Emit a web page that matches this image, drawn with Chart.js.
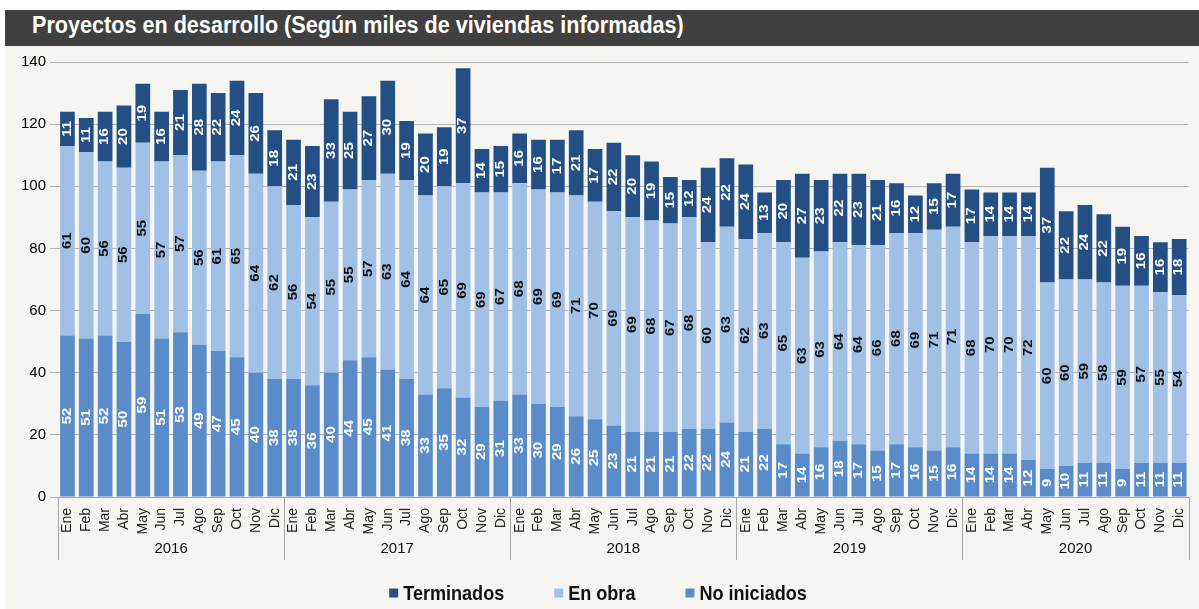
<!DOCTYPE html>
<html>
<head>
<meta charset="utf-8">
<script src="https://cdn.jsdelivr.net/npm/chart.js@4"></script>
<style>
body { margin: 0; background: #fff; }
#wrap { position: absolute; left: 5px; top: 10px; width: 1194px; height: 599px; background: #f6f5f1; }
#title { height: 36px; background: #404040; color: #fff; line-height: 36px; padding-left: 27px; overflow: hidden; }
#title span { display: inline-block; font: bold 24px "Liberation Sans Narrow", "Arial Narrow", "Liberation Sans", sans-serif; transform: scaleX(0.9); transform-origin: left center; white-space: nowrap; }
canvas { display: block; }
</style>
</head>
<body>
<div id="wrap">
  <div id="title"><span>Proyectos en desarrollo (Según miles de viviendas informadas)</span></div>
  <canvas id="myChart" width="1194" height="563"></canvas>
</div>
<script>
let years = ["2016","2017","2018","2019","2020"]
let months = ["Ene","Feb","Mar","Abr","May","Jun","Jul","Ago","Sep","Oct","Nov","Dic"]
let noIniciados = [52,51,52,50,59,51,53,49,47,45,40,38,
                   38,36,40,44,45,41,38,33,35,32,29,31,
                   33,30,29,26,25,23,21,21,21,22,22,24,
                   21,22,17,14,16,18,17,15,17,16,15,16,
                   14,14,14,12,9,10,11,11,9,11,11,11]
let enObra = [61,60,56,56,55,57,57,56,61,65,64,62,
              56,54,55,55,57,63,64,64,65,69,69,67,
              68,69,69,71,70,69,69,68,67,68,60,63,
              62,63,65,63,63,64,64,66,68,69,71,71,
              68,70,70,72,60,60,59,58,59,57,55,54]
let terminados = [11,11,16,20,19,16,21,28,22,24,26,18,
                  21,23,33,25,27,30,19,20,19,37,14,15,
                  16,16,17,21,17,22,20,19,15,12,24,22,
                  24,13,20,27,23,22,23,21,16,12,15,17,
                  17,14,14,14,37,22,24,22,19,16,16,18]
let yTicks = [0,20,40,60,80,100,120,140]

let labels = years.flatMap(y => months)

// numbers inside each segment, rotated
const valueLabels = {
  id: 'valueLabels',
  afterDatasetsDraw(chart) {
    const ctx = chart.ctx
    chart.data.datasets.forEach((ds, i) => {
      chart.getDatasetMeta(i).data.forEach((bar, j) => {
        ctx.save()
        ctx.translate(bar.x, (bar.y + bar.base) / 2)
        ctx.rotate(-Math.PI / 2)
        ctx.scale(1.25, 1)
        ctx.font = 'bold 12px "Liberation Sans", Arial, sans-serif'
        ctx.fillStyle = ds.labelColor
        ctx.textAlign = 'center'
        ctx.textBaseline = 'middle'
        ctx.fillText(ds.data[j], 0, 0)
        ctx.restore()
      })
    })
  }
}

// year row under the months + separators + legend
const yearAxis = {
  id: 'yearAxis',
  afterDraw(chart) {
    const ctx = chart.ctx
    const x = chart.scales.x
    const cw = (x.right - x.left) / labels.length
    ctx.save()
    ctx.strokeStyle = '#a6a6a6'
    ctx.lineWidth = 1
    for (let k = 0; k <= years.length; k++) {
      const px = Math.round(x.left + k * 12 * cw) + 0.5
      ctx.beginPath()
      ctx.moveTo(px, x.top)
      ctx.lineTo(px, x.top + 63)
      ctx.stroke()
    }
    ctx.fillStyle = '#111'
    ctx.font = '15px "Liberation Sans", Arial, sans-serif'
    ctx.textAlign = 'center'
    ctx.textBaseline = 'middle'
    years.forEach((y, k) => {
      ctx.fillText(y, x.left + (k * 12 + 6) * cw, x.top + 52)
    })

    // legend (condensed text)
    const items = chart.data.datasets.slice().reverse()
    const sx = 0.86
    ctx.font = 'bold 21px "Liberation Sans Narrow", "Liberation Sans", Arial, sans-serif'
    const box = 9, gap = 5, space = 50
    let total = 0
    items.forEach((ds, i) => {
      total += box + gap + ctx.measureText(ds.label).width * sx + (i < items.length - 1 ? space : 0)
    })
    let lx = chart.width / 2 - total / 2 - 4
    const ly = 547
    ctx.textAlign = 'left'
    items.forEach(ds => {
      ctx.fillStyle = ds.backgroundColor
      ctx.fillRect(lx, ly - box / 2, box, box)
      lx += box + gap
      ctx.fillStyle = '#111'
      ctx.save()
      ctx.translate(lx, ly + 1)
      ctx.scale(sx, 1)
      ctx.fillText(ds.label, 0, 0)
      ctx.restore()
      lx += ctx.measureText(ds.label).width * sx + space
    })
    ctx.restore()
  }
}

let myBarChart = document.getElementById("myChart").getContext('2d')
new Chart(myBarChart, {
  type: 'bar',
  data: {
    labels: labels,
    datasets: [
      { label: "No iniciados", data: noIniciados, backgroundColor: "#5b8cca", labelColor: "#fff" },
      { label: "En obra", data: enObra, backgroundColor: "#a0c0e6", labelColor: "#111" },
      { label: "Terminados", data: terminados, backgroundColor: "#244f84", labelColor: "#fff" }
    ]
  },
  options: {
    responsive: false,
    animation: false,
    barPercentage: 0.78,
    categoryPercentage: 1,
    layout: { padding: { top: 16, right: 2, left: 10, bottom: 40 } },
    plugins: {
      legend: { display: false },
      tooltip: { enabled: false }
    },
    scales: {
      x: {
        stacked: true,
        grid: { display: false },
        border: { color: '#a6a6a6' },
        ticks: {
          autoSkip: false, minRotation: 90, maxRotation: 90, padding: 3,
          color: '#222', font: { size: 14, family: '"Liberation Sans", Arial, sans-serif' }
        },
        afterFit: s => { s.height = 72 }
      },
      y: {
        stacked: true,
        min: 0, max: 140,
        afterBuildTicks: s => { s.ticks = yTicks.map(v => ({ value: v })) },
        grid: { color: '#b4b4b4' },
        border: { display: false },
        ticks: {
          padding: 4, color: '#000',
          font: { size: 15, family: '"Liberation Sans", Arial, sans-serif' }
        },
        afterFit: s => { s.width = 43 }
      }
    }
  },
  plugins: [valueLabels, yearAxis]
})
</script>
</body>
</html>
